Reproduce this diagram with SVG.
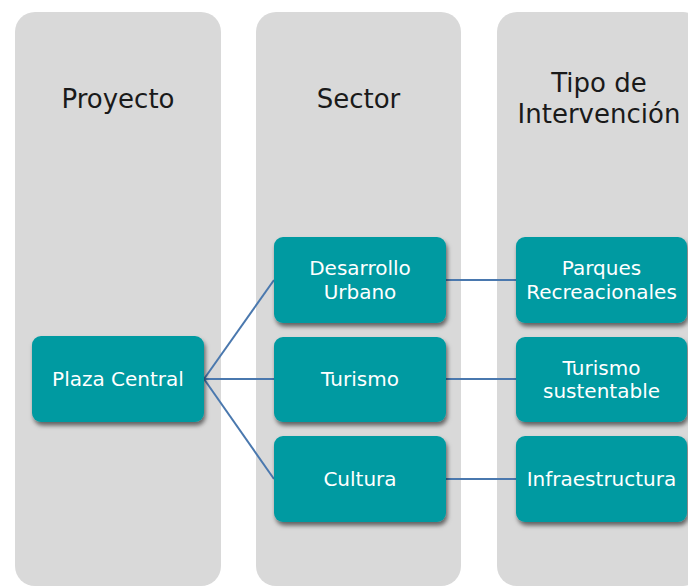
<svg xmlns="http://www.w3.org/2000/svg" width="688" height="587" viewBox="0 0 688 587">
<defs>
<style>
.col{fill:#D9D9D9}
.hdr{font-family:"DejaVu Sans",sans-serif;font-size:26px;fill:#1a1a1a;text-anchor:middle}
.box{fill:#009AA1;filter:url(#sh)}
.lbl{font-family:"DejaVu Sans",sans-serif;font-size:20px;fill:#ffffff;text-anchor:middle}
.conn{stroke:#4A78AE;stroke-width:2;fill:none}
</style>
<filter id="sh" x="-10%" y="-10%" width="125%" height="130%">
<feDropShadow dx="1.5" dy="3.5" stdDeviation="2" flood-color="#000" flood-opacity="0.55"/>
</filter>
</defs>
<rect width="688" height="587" fill="#ffffff"/>
<g id="col-proyecto">
<rect class="col" x="15" y="12" width="206" height="574" rx="20"/>
<text class="hdr" x="118" y="108">Proyecto</text>
</g>
<g id="col-sector">
<rect class="col" x="256" y="12" width="205" height="574" rx="20"/>
<text class="hdr" x="358.5" y="108">Sector</text>
</g>
<g id="col-tipo">
<rect class="col" x="497" y="12" width="206" height="574" rx="20"/>
<text class="hdr" x="599" y="92">Tipo de</text>
<text class="hdr" x="599" y="123">Intervención</text>
</g>
<g id="connectors">
<line class="conn" x1="204" y1="379" x2="274" y2="280"/>
<line class="conn" x1="204" y1="379" x2="274" y2="379"/>
<line class="conn" x1="204" y1="379" x2="274" y2="479"/>
<line class="conn" x1="446" y1="280" x2="516" y2="280"/>
<line class="conn" x1="446" y1="379" x2="516" y2="379"/>
<line class="conn" x1="446" y1="479" x2="516" y2="479"/>
</g>
<g id="node-plaza">
<rect class="box" x="32" y="336" width="172" height="86" rx="9"/>
<text class="lbl" x="118" y="386">Plaza Central</text>
</g>
<g id="node-desarrollo">
<rect class="box" x="274" y="237" width="172" height="86" rx="9"/>
<text class="lbl" x="360" y="275">Desarrollo</text>
<text class="lbl" x="360" y="299">Urbano</text>
</g>
<g id="node-turismo">
<rect class="box" x="274" y="337" width="172" height="85" rx="9"/>
<text class="lbl" x="360" y="386">Turismo</text>
</g>
<g id="node-cultura">
<rect class="box" x="274" y="436" width="172" height="86" rx="9"/>
<text class="lbl" x="360" y="486">Cultura</text>
</g>
<g id="node-parques">
<rect class="box" x="516" y="237" width="171" height="86" rx="9"/>
<text class="lbl" x="601.5" y="275">Parques</text>
<text class="lbl" x="601.5" y="299">Recreacionales</text>
</g>
<g id="node-turismo-sust">
<rect class="box" x="516" y="337" width="171" height="85" rx="9"/>
<text class="lbl" x="601.5" y="375">Turismo</text>
<text class="lbl" x="601.5" y="398">sustentable</text>
</g>
<g id="node-infra">
<rect class="box" x="516" y="436" width="171" height="86" rx="9"/>
<text class="lbl" x="601.5" y="486">Infraestructura</text>
</g>
</svg>
